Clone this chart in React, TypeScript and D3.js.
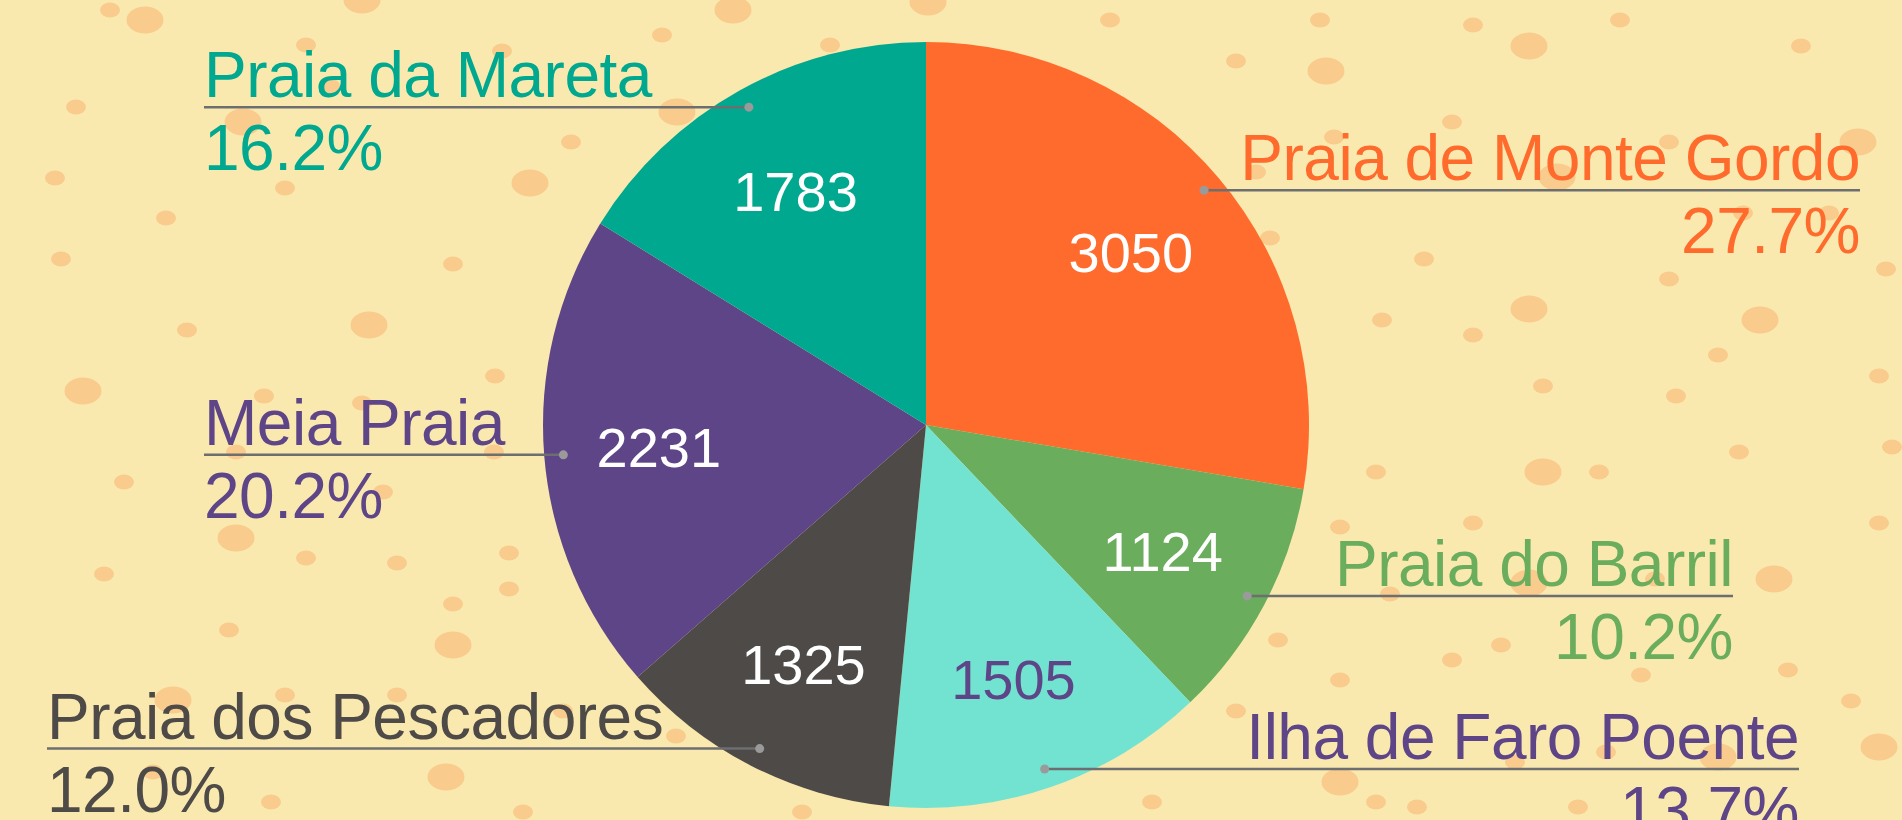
import React from "react";
import * as d3 from "d3";

// ---- data ----
const beaches = [
  "Praia de Monte Gordo",
  "Praia do Barril",
  "Ilha de Faro Poente",
  "Praia dos Pescadores",
  "Meia Praia",
  "Praia da Mareta",
];
const visitors = [3050, 1124, 1505, 1325, 2231, 1783];
const sliceColors = ["#FF6B2C", "#6AAD5C", "#72E3D0", "#4E4A47", "#5E4587", "#00A88F"];
const outerLabelColors = ["#FF6B2C", "#6AAD5C", "#5E4587", "#4E4A47", "#5E4587", "#00A88F"];
const valueLabelColors = ["#FFFFFF", "#FFFFFF", "#5E4587", "#FFFFFF", "#FFFFFF", "#FFFFFF"];
// x where each label's guide line ends (text aligns to it)
const labelLineEnds = [1860, 1733, 1799, 47, 204, 204];

// ---- decorative background bubbles: [x, y, large?] ----
const bubbles: [number, number, number][] = [
  [110, 10, 0], [145, 20, 1], [362, 0, 1], [306, 45, 0], [502, 51, 0], [330, 86, 0],
  [76, 107, 0], [243, 122, 1], [55, 178, 0], [285, 188, 0], [530, 183, 1], [166, 218, 0],
  [61, 259, 0], [453, 264, 0], [369, 325, 1], [187, 330, 0], [495, 376, 0], [83, 391, 1],
  [264, 396, 0], [362, 403, 0], [571, 142, 0],
  [733, 10, 1], [928, 2, 1], [662, 35, 0], [830, 45, 0], [1110, 20, 0], [1236, 61, 0],
  [677, 112, 1], [1256, 172, 0], [1270, 238, 0],
  [1320, 20, 0], [1473, 25, 0], [1620, 20, 0], [1529, 46, 1], [1801, 46, 0], [1326, 71, 1],
  [1452, 122, 0], [1334, 137, 0], [1669, 142, 0], [1858, 142, 1], [1557, 177, 1],
  [1743, 213, 0], [1829, 213, 0], [1424, 259, 0], [1669, 279, 0], [1886, 269, 0],
  [1529, 309, 1], [1760, 320, 1], [1382, 320, 0], [1473, 335, 0], [1718, 355, 0],
  [1295, 370, 0], [1879, 376, 0], [1543, 386, 0], [1676, 396, 0],
  [1739, 452, 0], [1892, 447, 0], [1376, 472, 0], [1543, 472, 1], [1599, 472, 0],
  [1340, 527, 0], [1473, 523, 0], [1879, 523, 0], [1529, 583, 1], [1655, 579, 0],
  [1774, 579, 1], [1390, 594, 0], [1278, 640, 0], [1501, 645, 0], [1452, 660, 0],
  [1340, 680, 0], [1641, 675, 0], [1788, 670, 0], [1851, 701, 0], [1879, 747, 1],
  [1515, 762, 0], [1606, 752, 0], [1718, 757, 1], [1340, 782, 1], [1376, 802, 0],
  [1417, 807, 0], [1578, 807, 0],
  [676, 736, 0], [1236, 711, 0], [1152, 802, 0], [802, 812, 0],
  [236, 452, 0], [494, 452, 0], [124, 482, 0], [383, 492, 0], [236, 538, 1],
  [306, 558, 0], [397, 563, 0], [104, 574, 0], [509, 553, 0], [509, 589, 0],
  [453, 604, 0], [229, 630, 0], [453, 645, 1], [173, 700, 1], [285, 695, 0],
  [397, 695, 0], [563, 711, 0], [446, 777, 1], [153, 772, 0], [271, 802, 0], [523, 812, 0],
];

const W = 1902;
const H = 820;
const CX = 926;
const CY = 425;
const R = 383;
const FONT = "'Liberation Sans', Arial, Helvetica, sans-serif";

export default function App() {
  const total = d3.sum(visitors);
  const pie = d3
    .pie<number>()
    .sort(null)
    .value((d) => d);
  const arcs = pie(visitors);
  const arcGen = d3.arc<d3.PieArcDatum<number>>().innerRadius(0).outerRadius(R);
  const valueArc = d3.arc<d3.PieArcDatum<number>>().innerRadius(R * 0.7).outerRadius(R * 0.7);
  const pointArc = d3.arc<d3.PieArcDatum<number>>().innerRadius(R * 0.95).outerRadius(R * 0.95);
  const fmt = d3.format(".1f");

  return (
    <svg
      width={W}
      height={H}
      style={{ position: "fixed", left: 0, top: 0, display: "block" }}
      fontFamily={FONT}
    >
      <rect x={0} y={0} width={W} height={H} fill="#FAE9AF" />
      <g>
        {bubbles.map(([x, y, big], i) => (
          <ellipse
            key={i}
            cx={x}
            cy={y}
            rx={big ? 18.5 : 10}
            ry={big ? 13.5 : 7.4}
            fill="#F9CB8D"
          />
        ))}
      </g>
      <g transform={`translate(${CX},${CY})`}>
        {arcs.map((a, i) => (
          <path key={i} d={arcGen(a) || ""} fill={sliceColors[i]} />
        ))}
        {arcs.map((a, i) => {
          const [x, y] = valueArc.centroid(a);
          return (
            <text
              key={i}
              x={x}
              y={y}
              dy="0.36em"
              textAnchor="middle"
              fontSize={56}
              fill={valueLabelColors[i]}
            >
              {visitors[i]}
            </text>
          );
        })}
      </g>
      <g>
        {arcs.map((a, i) => {
          const [px, py] = pointArc.centroid(a);
          const x0 = CX + px;
          const y0 = CY + py;
          const x1 = labelLineEnds[i];
          const right = x1 > x0;
          const anchor = right ? "end" : "start";
          return (
            <g key={i}>
              <line x1={x0} y1={y0} x2={x1} y2={y0} stroke="#6C6E70" strokeWidth={2.5} />
              <circle cx={x0} cy={y0} r={4.5} fill="#9A9A9A" />
              <text
                x={x1}
                y={y0 - 10}
                textAnchor={anchor}
                fontSize={64}
                letterSpacing={-0.5}
                fill={outerLabelColors[i]}
              >
                {beaches[i]}
              </text>
              <text
                x={x1}
                y={y0 + 63}
                textAnchor={anchor}
                fontSize={64}
                letterSpacing={-0.5}
                fill={outerLabelColors[i]}
              >
                {fmt((visitors[i] / total) * 100) + "%"}
              </text>
            </g>
          );
        })}
      </g>
    </svg>
  );
}
